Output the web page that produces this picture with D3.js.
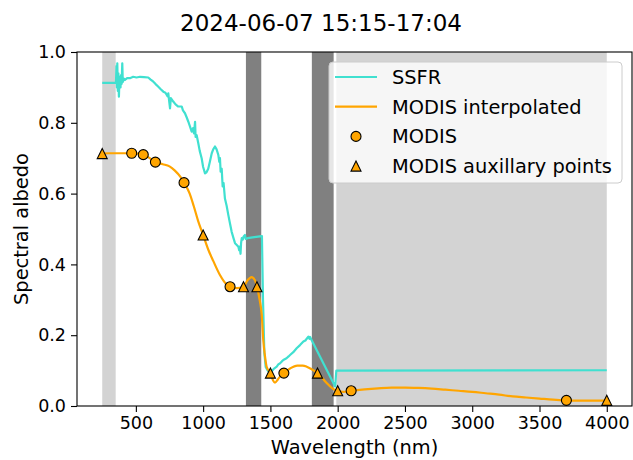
<!DOCTYPE html>
<html>
<head>
<meta charset="utf-8">
<script src="https://cdn.jsdelivr.net/npm/d3@7"></script>
<style>
body { margin: 0; background: #fff; }
text { font-family: "DejaVu Sans", sans-serif; fill: #000; }
</style>
</head>
<body>
<svg id="chart"></svg>
<script>
// values
const ssfrWl  = [250, 300, 352, 356, 359, 362, 366, 370, 374, 377, 381, 386, 390, 394, 399, 403, 410, 419, 435, 456, 480, 505, 531, 560, 592, 610, 630, 645, 667, 685, 704, 720, 735, 741, 748, 754, 760, 778, 795, 815, 841, 850, 865, 878, 890, 902, 915, 925, 932, 940, 944, 952, 964, 975, 989, 1000, 1014, 1025, 1038, 1050, 1064, 1075, 1088, 1100, 1113, 1120, 1125, 1130, 1138, 1145, 1152, 1162, 1175, 1187, 1200, 1212, 1225, 1237, 1250, 1262, 1268, 1272, 1278, 1282, 1287, 1295, 1300, 1311, 1316, 1330, 1380, 1437, 1445, 1455, 1465, 1480, 1497, 1510, 1525, 1547, 1560, 1570, 1585, 1596, 1620, 1635, 1646, 1670, 1695, 1720, 1745, 1760, 1770, 1782, 1790, 1795, 1807, 1981, 1990, 4000];
const ssfrAlb = [.913, .913, .913, .96, .90, .968, .89, .94, .874, .91, .93, .90, .935, .91, .968, .915, .925, .921, .926, .926, .93, .928, .93, .929, .928, .922, .916, .91, .902, .895, .888, .885, .875, .883, .86, .841, .87, .86, .852, .846, .846, .835, .827, .815, .803, .79, .775, .785, .77, .803, .76, .765, .742, .72, .70, .675, .657, .66, .67, .69, .714, .725, .733, .725, .709, .69, .70, .662, .67, .62, .63, .586, .565, .54, .515, .492, .475, .46, .455, .45, .44, .45, .43, .46, .474, .47, .478, .483, .472, .474, .477, .48, .30, .15, .11, .10, .092, .098, .105, .111, .118, .12, .126, .13, .135, .14, .144, .152, .163, .172, .182, .185, .19, .196, .19, .195, .186, .055, .10, .101];

const interpWl  = [250, 300, 350, 400, 469, 510, 555, 600, 645, 700, 750, 790, 830, 858, 900, 930, 965, 1000, 1040, 1075, 1125, 1175, 1200, 1250, 1300, 1330, 1360, 1385, 1400, 1420, 1435, 1447, 1460, 1472, 1500, 1520, 1534, 1555, 1571, 1600, 1646, 1700, 1740, 1770, 1810, 1850, 1890, 1920, 1960, 2000, 2042, 2100, 2200, 2300, 2400, 2500, 2600, 2700, 2800, 2900, 3000, 3100, 3200, 3300, 3400, 3500, 3600, 3700, 3800, 3900, 4000];
const interpAlb = [.713, .714, .714, .714, .714, .713, .71, .701, .689, .683, .677, .665, .648, .631, .60, .565, .52, .483, .44, .41, .37, .343, .337, .333, .337, .355, .364, .355, .337, .30, .26, .186, .14, .111, .093, .072, .066, .075, .083, .093, .106, .114, .114, .111, .103, .093, .077, .064, .05, .043, .04, .043, .047, .05, .052, .052, .051, .049, .046, .043, .04, .036, .032, .027, .024, .021, .018, .016, .015, .015, .016];

const modisWl  = [469, 555, 645, 858, 1200, 1600, 2100, 3700];
const modisAlb = [.714, .71, .689, .631, .337, .093, .043, .016];

const auxWl  = [250, 1000, 1300, 1400, 1500, 1850, 2000, 4000];
const auxAlb = [.713, .483, .337, .337, .093, .093, .043, .016];

const lightSpans = [[250, 350], [1990, 4000]];
const darkSpans  = [[1318, 1432], [1808, 1970]];

const xTicks = [500, 1000, 1500, 2000, 2500, 3000, 3500, 4000];
const yTicks = [0, 0.2, 0.4, 0.6, 0.8, 1.0];

const legendItems = ["SSFR", "MODIS interpolated", "MODIS", "MODIS auxillary points"];

const width = 633, height = 460;
const mLeft = 77, mRight = 632, mTop = 52, mBottom = 406;

const svg = d3.select("#chart").attr("width", width).attr("height", height);

const x = d3.scaleLinear().domain([62.5, 4187.5]).range([mLeft, mRight]);
const y = d3.scaleLinear().domain([0, 1]).range([mBottom, mTop]);

const plot = svg.append("g");
plot.append("defs").append("clipPath").attr("id", "clip")
    .append("rect").attr("x", mLeft).attr("y", mTop)
    .attr("width", mRight - mLeft).attr("height", mBottom - mTop);

const body = plot.append("g").attr("clip-path", "url(#clip)");

body.selectAll(".light").data(lightSpans).join("rect")
    .attr("x", d => x(d[0])).attr("width", d => x(d[1]) - x(d[0]))
    .attr("y", mTop).attr("height", mBottom - mTop)
    .attr("fill", "#d3d3d3");

body.selectAll(".dark").data(darkSpans).join("rect")
    .attr("x", d => x(d[0])).attr("width", d => x(d[1]) - x(d[0]))
    .attr("y", mTop).attr("height", mBottom - mTop)
    .attr("fill", "#808080");

const ssfr = ssfrWl.map((w, i) => [w, ssfrAlb[i]]);
const interp = interpWl.map((w, i) => [w, interpAlb[i]]);

body.append("path")
    .attr("d", d3.line().x(d => x(d[0])).y(d => y(d[1]))(ssfr))
    .attr("fill", "none").attr("stroke", "#40e0d0").attr("stroke-width", 2.2)
    .attr("stroke-linejoin", "round");

body.append("path")
    .attr("d", d3.line().curve(d3.curveMonotoneX).x(d => x(d[0])).y(d => y(d[1]))(interp))
    .attr("fill", "none").attr("stroke", "#ffa500").attr("stroke-width", 2.2);

// matplotlib-like markers: circle of diameter ms, triangle ms wide and ms tall
const ms = 10;
const circ = d3.symbol().type(d3.symbolCircle).size(Math.PI * (ms / 2) ** 2);
const tri = d3.symbol().type({
    draw(ctx) {
        const h = ms / 2;
        ctx.moveTo(0, -h);
        ctx.lineTo(h, h);
        ctx.lineTo(-h, h);
        ctx.closePath();
    }
});

body.selectAll(".modis").data(modisWl).join("path")
    .attr("d", circ)
    .attr("transform", (d, i) => `translate(${x(d)},${y(modisAlb[i])})`)
    .attr("fill", "#ffa500").attr("stroke", "#000").attr("stroke-width", 1.1);

body.selectAll(".aux").data(auxWl).join("path")
    .attr("d", tri)
    .attr("transform", (d, i) => `translate(${x(d)},${y(auxAlb[i])})`)
    .attr("fill", "#ffa500").attr("stroke", "#000").attr("stroke-width", 1.1)
    .attr("stroke-linejoin", "miter");

// axes
const xAxis = svg.append("g").attr("transform", `translate(0,${mBottom})`)
    .call(d3.axisBottom(x).tickValues(xTicks).tickSize(6).tickPadding(5).tickFormat(d3.format("d")));
const yAxis = svg.append("g").attr("transform", `translate(${mLeft},0)`)
    .call(d3.axisLeft(y).tickValues(yTicks).tickSize(6).tickPadding(5).tickFormat(d3.format(".1f")));

[xAxis, yAxis].forEach(a => {
    a.select(".domain").remove();
    a.selectAll("line").attr("stroke", "#000").attr("stroke-width", 1.1);
    a.selectAll("text").attr("font-size", 17.5).attr("font-family", "DejaVu Sans");
});

svg.append("rect").attr("x", mLeft).attr("y", mTop)
    .attr("width", mRight - mLeft).attr("height", mBottom - mTop)
    .attr("fill", "none").attr("stroke", "#000").attr("stroke-width", 1.1);

// labels
svg.append("text").attr("x", (mLeft + mRight) / 2).attr("y", 454)
    .attr("text-anchor", "middle").attr("font-size", 19.4).text("Wavelength (nm)");
svg.append("text").attr("transform", `translate(28,${(mTop + mBottom) / 2}) rotate(-90)`)
    .attr("text-anchor", "middle").attr("font-size", 19.4).text("Spectral albedo");
svg.append("text").attr("x", 321).attr("y", 31)
    .attr("text-anchor", "middle").attr("font-size", 23).text("2024-06-07 15:15-17:04");

// legend
const lg = svg.append("g");
lg.append("rect").attr("x", 329).attr("y", 62).attr("width", 293).attr("height", 121)
    .attr("rx", 4).attr("fill", "#fff").attr("fill-opacity", 0.8)
    .attr("stroke", "#cccccc").attr("stroke-width", 1);

const rowY = i => 77 + i * 29.7;
lg.append("line").attr("x1", 335).attr("x2", 377).attr("y1", rowY(0)).attr("y2", rowY(0))
    .attr("stroke", "#40e0d0").attr("stroke-width", 2.2);
lg.append("line").attr("x1", 335).attr("x2", 377).attr("y1", rowY(1)).attr("y2", rowY(1))
    .attr("stroke", "#ffa500").attr("stroke-width", 2.2);
lg.append("path").attr("d", circ).attr("transform", `translate(356,${rowY(2)})`)
    .attr("fill", "#ffa500").attr("stroke", "#000").attr("stroke-width", 1.1);
lg.append("path").attr("d", tri).attr("transform", `translate(356,${rowY(3)})`)
    .attr("fill", "#ffa500").attr("stroke", "#000").attr("stroke-width", 1.1);

lg.selectAll(".lt").data(legendItems).join("text")
    .attr("x", 392).attr("y", (d, i) => rowY(i)).attr("dy", "0.36em")
    .attr("font-size", 19.4).text(d => d);
</script>
</body>
</html>
